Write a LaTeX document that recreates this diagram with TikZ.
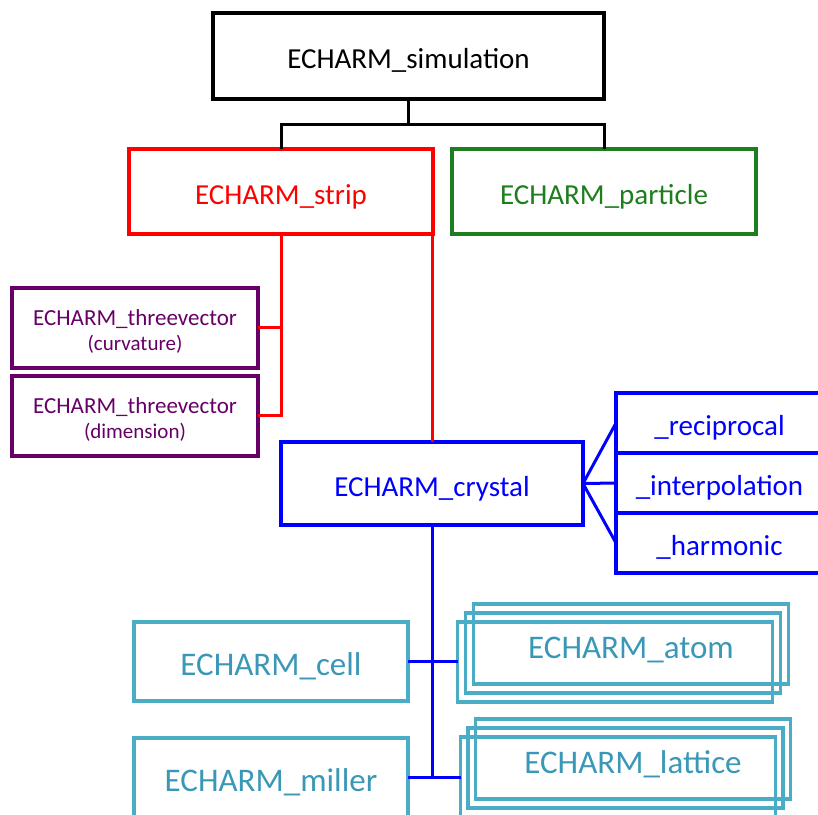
\documentclass[tikz,border=0pt]{standalone}
\usepackage{fontspec}
\setmainfont{Carlito}
\usepackage{xcolor}
\usetikzlibrary{positioning}
\definecolor{echgreen}{RGB}{30,125,30}
\definecolor{echpurple}{RGB}{102,0,102}
\definecolor{echteal}{RGB}{75,172,198}
\definecolor{echtealtext}{RGB}{58,152,182}
\newcommand{\vecstrut}{\rule{0pt}{24pt}}

\begin{document}
\begin{tikzpicture}[
  x=1pt, y=-1pt,
  box/.style={draw, rectangle, line width=4pt, inner sep=0pt, outer sep=0pt, align=center, text height=25pt, text depth=0pt, font=\fontsize{29}{34}\selectfont},
  vecbox/.style={box, echpurple, minimum width=246pt, minimum height=80pt, text height={}, text depth={}, font=\fontsize{23}{25}\selectfont},
  subbox/.style={box, blue, minimum width=207pt, minimum height=60pt},
  cellbox/.style={box, draw=echteal, text=echtealtext, line width=3.5pt, minimum width=274pt, minimum height=79pt, text height=28pt, font=\fontsize{33}{38}\selectfont},
  stackbox/.style={cellbox, minimum width=315pt, minimum height=80pt},
  link/.style={line width=3pt}
]
  \useasboundingbox (0,0) rectangle (818,814);

  \node[box, draw=black, minimum width=391pt, minimum height=86pt] (sim) at (408.5,56) {ECHARM\_simulation};
  \node[box, red, minimum width=304pt, minimum height=85pt] (strip) at (281,191.5) {ECHARM\_strip};
  \node[box, echgreen, minimum width=304pt, minimum height=85pt, right=19pt of strip] (particle) {ECHARM\_particle};

  \node[vecbox] (curv) at (135,327.5) {\vecstrut ECHARM\_threevector\\{\fontsize{21}{25}\selectfont (curvature)}};
  \node[vecbox, below=8pt of curv] (dim) {\vecstrut ECHARM\_threevector\\{\fontsize{21}{25}\selectfont (dimension)}};

  \node[box, blue, minimum width=302pt, minimum height=83pt] (crystal) at (432,483.5) {ECHARM\_crystal};
  \node[subbox] (recip) at (719.5,423) {\_reciprocal};
  \node[subbox, below=0pt of recip] (interp) {\_interpolation};
  \node[subbox, below=0pt of interp] (harm) {\_harmonic};

  \node[cellbox] (cell) at (271,661.5) {ECHARM\_cell};
  \node[cellbox, below=37pt of cell] (miller) {ECHARM\_miller};

  \node[stackbox] (atom) at (631,644) {ECHARM\_atom};
  \node[stackbox] (atomb) at ([shift={(-8,9)}]atom) {};
  \node[stackbox] (atomc) at ([shift={(-16,18)}]atom) {};
  \node[stackbox] (lattice) at (633,759) {ECHARM\_lattice};
  \node[stackbox] (latticeb) at ([shift={(-7.5,9)}]lattice) {};
  \node[stackbox] (latticec) at ([shift={(-15,18)}]lattice) {};

  \draw[link] (sim.south) -- ([shift={(0,25)}]sim.south) coordinate (fork);
  \draw[link] (strip.north) |- (fork) -| (particle.north);

  \draw[link, red] (strip.south) |- (dim.east);
  \draw[link, red] (curv.east) -- (curv.east -| strip.south);
  \draw[link, red] (crystal.north |- strip.south) -- (crystal.north);

  \draw[link, blue] (crystal.east) -- (recip.west);
  \draw[link, blue] (crystal.east) -- (interp.west);
  \draw[link, blue] (crystal.east) -- (harm.west);
  \draw[link, blue] (crystal.south) -- (crystal.south |- miller.east);
  \draw[link, blue] (cell.east) -- (cell.east -| atomc.west);
  \draw[link, blue] (miller.east) -- (miller.east -| latticec.west);
\end{tikzpicture}
\end{document}
